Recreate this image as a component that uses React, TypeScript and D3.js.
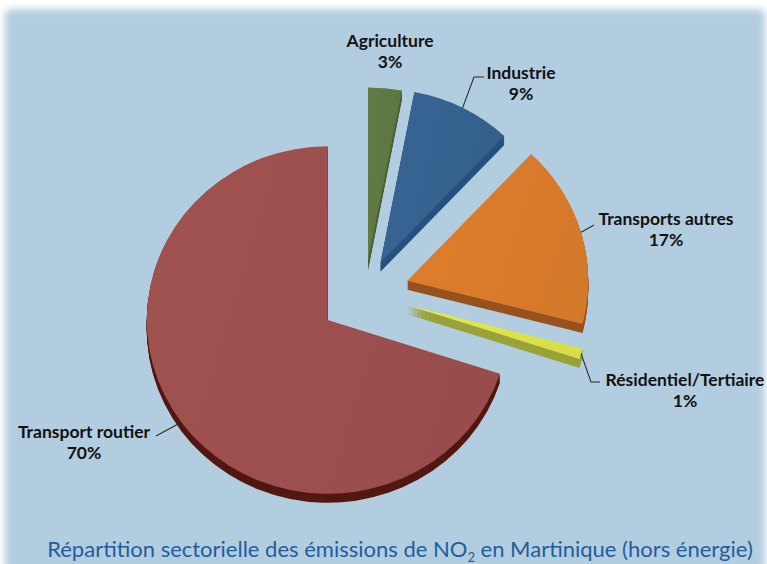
import { useEffect, useRef } from "react";
import * as d3 from "d3";

// NO2 emissions by sector, Martinique (excluding energy)
const sectors = [
  "Agriculture",
  "Industrie",
  "Transports autres",
  "Résidentiel/Tertiaire",
  "Transport routier",
];
const shares = [3, 9, 17, 1, 70];

const topColors = ["#5f7843", "#35618f", "#d97b2a", "#dde34a", "#9b4f4e"];
const sideColors = ["#4a5e33", "#28507e", "#96521f", "#9aa23b", "#541712"];
const explodeBy = [32, 34, 44, 44, 46];

type LabelSpot = { cx: number; y: number; leader: [number, number][] };
const labelSpots: LabelSpot[] = [
  { cx: 390, y: 47, leader: [] },
  { cx: 521, y: 79, leader: [[474, 77], [484, 77]] },
  { cx: 666, y: 225, leader: [[594, 225]] },
  { cx: 685, y: 386, leader: [[591, 382], [600, 382]] },
  { cx: 84, y: 438, leader: [[156, 436]] },
];

const W = 767;
const H = 564;
const CX = 365;
const CY = 293;
const R = 181;
const SQUASH = 0.96;
const DEPTH = 9;

export default function App() {
  const ref = useRef<SVGSVGElement | null>(null);

  useEffect(() => {
    if (!ref.current) return;
    const svg = d3.select(ref.current);
    svg.selectAll("*").remove();

    const defs = svg.append("defs");
    defs
      .append("filter")
      .attr("id", "soft")
      .attr("x", "-5%")
      .attr("y", "-5%")
      .attr("width", "110%")
      .attr("height", "110%")
      .append("feGaussianBlur")
      .attr("stdDeviation", 3.5);

    // panel
    svg
      .append("rect")
      .attr("x", 5)
      .attr("y", 9)
      .attr("width", 760)
      .attr("height", 620)
      .attr("rx", 6)
      .attr("fill", "#b3cde0")
      .attr("filter", "url(#soft)");

    const pie = d3
      .pie<number>()
      .sort(null)
      .value((d) => d)
      .startAngle(0)
      .endAngle(2 * Math.PI);
    const arcs = pie(shares);

    const arc = d3
      .arc<d3.PieArcDatum<number>>()
      .innerRadius(0)
      .outerRadius(R);

    arcs.forEach((a, i) => {
      const g = defs
        .append("linearGradient")
        .attr("id", `top-${i}`)
        .attr("x1", 0)
        .attr("x2", 1)
        .attr("y1", 0)
        .attr("y2", 0.3);
      const base = d3.color(topColors[i])!;
      g.append("stop").attr("offset", 0).attr("stop-color", base.brighter(0.1).formatHex());
      g.append("stop").attr("offset", 1).attr("stop-color", base.darker(0.06).formatHex());
    });

    const origin = (a: d3.PieArcDatum<number>, i: number) => {
      const mid = (a.startAngle + a.endAngle) / 2;
      return [CX + explodeBy[i] * Math.sin(mid), CY - explodeBy[i] * Math.cos(mid)];
    };

    const plot = svg.append("g");

    arcs.forEach((a, i) => {
      const [ox, oy] = origin(a, i);
      const g = plot.append("g");
      // side extrusion: stacked copies shifted downward
      d3.range(DEPTH, 0, -1).forEach((k) => {
        g.append("path")
          .attr("d", arc(a)!)
          .attr("transform", `translate(${ox},${oy + k}) scale(1,${SQUASH})`)
          .attr("fill", sideColors[i]);
      });
      g.append("path")
        .attr("d", arc(a)!)
        .attr("transform", `translate(${ox},${oy}) scale(1,${SQUASH})`)
        .attr("fill", `url(#top-${i})`);
    });

    // labels + leader lines
    const font = "Lato, 'Open Sans', sans-serif";
    arcs.forEach((a, i) => {
      const spot = labelSpots[i];
      const [ox, oy] = origin(a, i);
      const mid = (a.startAngle + a.endAngle) / 2;
      if (spot.leader.length) {
        const start: [number, number] = [
          ox + R * Math.sin(mid),
          oy - R * SQUASH * Math.cos(mid),
        ];
        svg
          .append("path")
          .attr("d", d3.line()([start, ...spot.leader])!)
          .attr("fill", "none")
          .attr("stroke", "#2b2b2b")
          .attr("stroke-width", 1.1);
      }
      const t = svg
        .append("text")
        .attr("text-anchor", "middle")
        .attr("font-family", font)
        .attr("font-weight", 700)
        .attr("font-size", 17.5)
        .attr("fill", "#111");
      t.append("tspan").attr("x", spot.cx).attr("y", spot.y).text(sectors[i]);
      t.append("tspan")
        .attr("x", spot.cx)
        .attr("y", spot.y + 21)
        .text(`${shares[i]}%`);
    });

    // caption
    const cap = svg
      .append("text")
      .attr("x", 400)
      .attr("y", 557)
      .attr("text-anchor", "middle")
      .attr("font-family", font)
      .attr("font-size", 22)
      .attr("fill", "#1f5e9c");
    cap.append("tspan").text("Répartition sectorielle des émissions de NO");
    cap.append("tspan").attr("font-size", 13).attr("dy", 5).text("2");
    cap.append("tspan").attr("dy", -5).text(" en Martinique (hors énergie)");
  }, []);

  return (
    <svg
      ref={ref}
      width={W}
      height={H}
      style={{ position: "absolute", left: 0, top: 0, background: "#fff" }}
    />
  );
}
